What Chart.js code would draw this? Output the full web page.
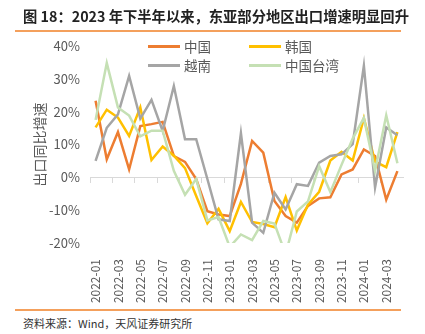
<!DOCTYPE html>
<html>
<head>
<meta charset="utf-8">
<script src="https://cdn.jsdelivr.net/npm/chart.js@4/dist/chart.umd.min.js"></script>
<style>
  html, body { margin: 0; padding: 0; background: #fff; }
  body { width: 425px; height: 334px; position: relative; overflow: hidden; font-family: "Noto Sans CJK SC", sans-serif; }
  #wrap { position: absolute; left: 0; top: 0; width: 425px; height: 306px; }
  .titulo { position: absolute; left: 23px; top: 5px; font-size: 14.3px; font-weight: 700; color: #222; white-space: nowrap; }
  .linea { position: absolute; left: 15px; width: 386px; height: 2px; background: #f4a05c; }
  .fuente { position: absolute; left: 23px; top: 315px; font-size: 11px; color: #333; white-space: nowrap; }
  .leyenda { position: absolute; font-size: 13.5px; color: #595959; display: flex; align-items: center; white-space: nowrap; }
  .leyenda span.m { display: inline-block; width: 32px; height: 3px; margin-right: 4px; }
</style>
</head>
<body>
<div id="wrap"><canvas id="grafica"></canvas></div>
<div class="titulo">图 18：2023 年下半年以来，东亚部分地区出口增速明显回升</div>
<div class="linea" style="top:30px"></div>
<div class="linea" style="top:309px"></div>
<div class="fuente">资料来源：Wind，天风证券研究所</div>
<div id="leyenda"></div>
<script>
// ── datos (% interanual) ──
const MESES = [
  '2022-01','2022-02','2022-03','2022-04','2022-05','2022-06','2022-07','2022-08','2022-09','2022-10','2022-11','2022-12',
  '2023-01','2023-02','2023-03','2023-04','2023-05','2023-06','2023-07','2023-08','2023-09','2023-10','2023-11','2023-12',
  '2024-01','2024-02','2024-03','2024-04'
];
const CHINA   = [23.3, 5.5, 13.8, 2.4, 15.6, 16.2, 16.9, 6.5, 4.7, -0.5, -10.3, -11.3, -11.8, -2.0, 11.1, 7.5, -7.2, -11.8, -13.8, -8.7, -6.4, -6.1, 0.9, 2.4, 8.5, 6.5, -6.8, 1.9];
const COREA   = [15.2, 20.6, 18.2, 12.6, 21.3, 5.3, 9.4, 6.6, 2.8, -5.7, -14.0, -9.6, -16.4, -7.5, -13.6, -14.2, -15.2, -6.0, -16.2, -8.3, -4.4, 5.1, 7.8, 5.1, 18.0, 4.8, 3.1, 13.8];
const VIETNAM = [5.0, 15.1, 19.2, 30.9, 17.9, 23.6, 14.1, 27.8, 11.6, 11.6, -0.5, -12.8, -13.3, 13.4, -13.8, -16.9, -4.7, -9.8, -2.1, -2.6, 4.5, 6.5, 7.0, 10.1, 34.0, -3.1, 15.2, 12.8];
const TAIWAN  = [17.5, 34.8, 21.3, 18.8, 12.5, 14.2, 14.2, 2.0, -5.3, -0.5, -13.1, -12.1, -21.2, -17.4, -19.1, -13.3, -14.1, -23.4, -10.4, -7.3, 3.4, -4.5, 3.8, 11.8, 18.1, 2.0, 18.9, 4.3];

const SERIES = [
  { nombre: '中国',     datos: CHINA,   color: '#ed7d31' },
  { nombre: '韩国',     datos: COREA,   color: '#ffc000' },
  { nombre: '越南',     datos: VIETNAM, color: '#a5a5a5' },
  { nombre: '中国台湾', datos: TAIWAN,  color: '#c5e0b4' },
];

// leyenda en 2 columnas, dentro del área del gráfico (como en Excel)
const POS_LEYENDA = [[148, 36], [249, 36], [148, 55], [249, 55]];
document.getElementById('leyenda').innerHTML = SERIES.map((s, i) =>
  `<div class="leyenda" style="left:${POS_LEYENDA[i][0]}px;top:${POS_LEYENDA[i][1]}px"><span class="m" style="background:${s.color}"></span>${s.nombre}</div>`
).join('');

const GRIS = '#595959';
const FUENTE = "'Noto Sans CJK SC', sans-serif";

new Chart(document.getElementById('grafica'), {
  type: 'line',
  data: {
    labels: MESES,
    datasets: SERIES.map((s, i) => ({
      label: s.nombre,
      data: s.datos,
      borderColor: s.color,
      backgroundColor: s.color,
      borderWidth: 2.5,
      pointRadius: 0,
      tension: 0,
      order: SERIES.length - i, // el último (台湾) queda encima
    })),
  },
  options: {
    responsive: true,
    maintainAspectRatio: false,
    animation: false,
    layout: { padding: { top: 46, right: 22, bottom: 0, left: 27 } },
    plugins: { legend: { display: false }, tooltip: { enabled: false } },
    scales: {
      x: {
        offset: true,
        grid: { display: false },
        border: { display: false },
        afterFit: (s) => { s.height = 63; },
        ticks: {
          autoSkip: false, minRotation: 90, maxRotation: 90, padding: 8,
          color: GRIS, font: { family: FUENTE, size: 12 },
          callback: (v, i) => (i % 2 === 0 ? MESES[i] : null),
        },
      },
      // eje en 0% con marcas cada 2 meses (etiquetas abajo, como "etiquetas bajas" de Excel)
      x0: {
        type: 'category',
        labels: MESES,
        position: { y: 0 },
        offset: true,
        border: { display: true, color: '#d9d9d9', width: 1 },
        grid: {
          offset: true, drawOnChartArea: false, drawTicks: true, tickLength: 5, lineWidth: 1,
          color: (c) => (c.index % 2 === 0 ? '#d9d9d9' : 'rgba(0,0,0,0)'),
        },
        ticks: { display: false },
      },
      y: {
        min: -20, max: 40,
        afterFit: (s) => { s.width = 63; },
        grid: { display: false, drawTicks: false },
        border: { display: false },
        ticks: {
          stepSize: 10, padding: 10, color: GRIS, font: { family: FUENTE, size: 13 },
          callback: (v) => v + '%',
        },
        title: {
          display: true, text: '出口同比增速', color: GRIS,
          font: { family: FUENTE, size: 14 },
        },
      },
    },
  },
});
</script>
</body>
</html>
